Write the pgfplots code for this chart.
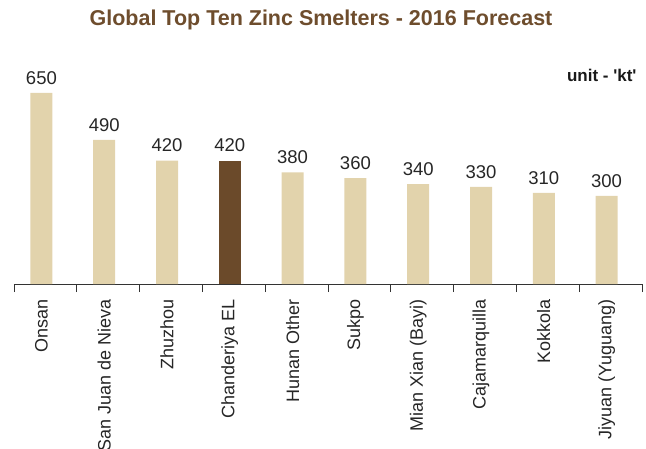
\documentclass[border=0pt]{standalone}
\usepackage{fontspec}
\setmainfont{Liberation Sans}
\usepackage{pgfplots}
\pgfplotsset{compat=1.18}
\definecolor{beige}{HTML}{E2D3AC}
\definecolor{brownbar}{HTML}{6B4A2A}
\definecolor{titlebrown}{HTML}{6E4D2D}
\definecolor{axisgray}{HTML}{333333}

\begin{document}
\begin{tikzpicture}[x=1pt,y=1pt]
\begin{axis}[
    at={(0,0)}, anchor=south west,
    scale only axis,
    width=628pt, height=224pt,
    xmin=-0.5, xmax=9.5,
    ymin=0, ymax=762,
    axis x line*=bottom,
    axis y line=none,
    axis line style={axisgray, line width=0.8pt, -},
    xtick={0,...,9},
    xticklabels={Onsan, San Juan de Nieva, Zhuzhou, Chanderiya EL, Hunan Other,
        Sukpo, Mian Xian (Bayi), Cajamarquilla, Kokkola, Jiyuan (Yuguang)},
    major tick length=0pt,
    minor xtick={-0.5,0.5,...,9.5},
    minor tick length=8pt,
    tick align=outside,
    minor x tick style={axisgray, line width=0.8pt},
    xticklabel shift=12pt,
    x tick label style={xshift=-4pt, rotate=90, anchor=east,
        font=\fontsize{18}{20}\selectfont, text=black!85},
    /pgf/number format/assume math mode=true,
    ybar, bar width=22pt, bar shift=-4pt,
    nodes near coords,
    nodes near coords style={font=\fontsize{18.5}{20}\selectfont, text=black!85, yshift=5pt},
    clip=false,
]
\addplot[fill=beige, draw=none] coordinates {
    (0,650) (1,490) (2,420) (4,380) (5,360) (6,340) (7,330) (8,310) (9,300)
};
\addplot[fill=brownbar, draw=none] coordinates {(3,420)};
\end{axis}
\node[font=\bfseries\fontsize{21.5}{24}\selectfont, text=titlebrown] at (307,264) {Global Top Ten Zinc Smelters - 2016 Forecast};
\node[font=\bfseries\fontsize{17}{20}\selectfont, text=black!90, anchor=east] at (626,209) {unit - \textquotesingle kt\textquotesingle};
\pgfresetboundingbox
\path[use as bounding box] (-14,-164) rectangle (632,284);
\end{tikzpicture}
\end{document}
